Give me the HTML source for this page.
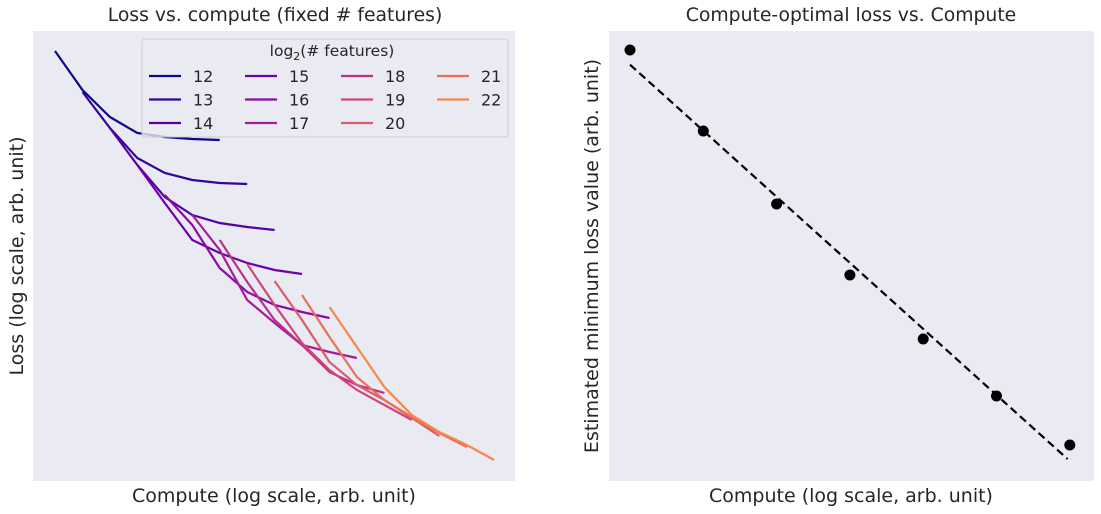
<!DOCTYPE html>
<html><head><meta charset="utf-8"><style>
body{margin:0;background:#fff;}
svg{display:block;font-family:"DejaVu Sans","Liberation Sans",sans-serif;}
</style></head><body>
<svg id="chart" width="1101" height="514">
<rect x="33" y="31" width="482" height="450" fill="#eaeaf2"/>
<rect x="609" y="31" width="485" height="450" fill="#eaeaf2"/>
<text x="275" y="21" font-size="18.8" text-anchor="middle" fill="#262626">Loss vs. compute (fixed # features)</text>
<text x="851" y="21" font-size="18.8" text-anchor="middle" fill="#262626">Compute-optimal loss vs. Compute</text>
<text x="274" y="502" font-size="19" text-anchor="middle" fill="#262626">Compute (log scale, arb. unit)</text>
<text x="851" y="502" font-size="19" text-anchor="middle" fill="#262626">Compute (log scale, arb. unit)</text>
<text transform="translate(23,256) rotate(-90)" font-size="19" text-anchor="middle" fill="#262626">Loss (log scale, arb. unit)</text>
<text transform="translate(598,256) rotate(-90)" font-size="19" text-anchor="middle" fill="#262626">Estimated minimum loss value (arb. unit)</text>
<g id="left-series"></g>
<g id="right-series"></g>
<g id="legend"></g>
</svg>
<script>
const featureLabels = [12,13,14,15,16,17,18,19,20,21,22];
const colors = ["#0d0887","#350498","#5402a3","#7000a8","#8b0aa5","#a31e9a","#b83289","#cc4778","#db5c68","#e97158","#f48849"];
const loss12 = [430,391,364,348,344,342,341];
const loss13 = [389,353,323,308,301,298,297];
const loss14 = [353,316,284,266,258,254,251];
const loss15 = [316,278,241,228,218,211,207];
const loss16 = [286,256,213,189,176,169,163];
const loss17 = [266,231,181,158,136,129,123];
const loss18 = [241,199,161,136,109,96,88];
const loss19 = [217,176,138,111,91,76,61];
const loss20 = [200,161,119,96,81,63,45];
const loss21 = [186,144,104,81,64,48,34];
const loss22 = [174,134,94,66,49,36,21];
const lossSeries = [loss12,loss13,loss14,loss15,loss16,loss17,loss18,loss19,loss20,loss21,loss22];
const optCompute = [0,1,2,3,4,5,6];
const optLoss = [431,350,277,206,142,85,36];

const NS = "http://www.w3.org/2000/svg";
const lx = i => 55 + i * 27.45;
const ly = v => 481 - v;
const rx = i => 630 + i * 73.3;
const ry = v => 481 - v;

const gL = document.getElementById('left-series');
lossSeries.forEach((s, k) => {
  const pts = s.map((v, j) => lx(k + j).toFixed(1) + ',' + ly(v).toFixed(1)).join(' ');
  const p = document.createElementNS(NS, 'polyline');
  p.setAttribute('points', pts);
  p.setAttribute('fill', 'none');
  p.setAttribute('stroke', colors[k]);
  p.setAttribute('stroke-width', '2.2');
  
  
  gL.appendChild(p);
});

const n = optCompute.length;
const mx = optCompute.reduce((a, b) => a + b, 0) / n;
const my = optLoss.reduce((a, b) => a + b, 0) / n;
let sxy = 0, sxx = 0;
for (let i = 0; i < n; i++) { sxy += (optCompute[i] - mx) * (optLoss[i] - my); sxx += (optCompute[i] - mx) ** 2; }
const slope = sxy / sxx, icpt = my - slope * mx;
const gR = document.getElementById('right-series');
const x0 = optCompute[0], x1 = optCompute[n - 1] - 0.03;
const fl = document.createElementNS(NS, 'line');
fl.setAttribute('x1', rx(x0)); fl.setAttribute('y1', ry(icpt + slope * x0));
fl.setAttribute('x2', rx(x1)); fl.setAttribute('y2', ry(icpt + slope * x1));
fl.setAttribute('stroke', '#000'); fl.setAttribute('stroke-width', '2.2'); fl.setAttribute('stroke-dasharray', '8,4.5');


gR.appendChild(fl);
optCompute.forEach((c, i) => {
  const d = document.createElementNS(NS, 'circle');
  d.setAttribute('cx', rx(c)); d.setAttribute('cy', ry(optLoss[i])); d.setAttribute('r', '5.5'); d.setAttribute('fill', '#000');
  
  
  gR.appendChild(d);
});

const gLeg = document.getElementById('legend');
const box = document.createElementNS(NS, 'rect');
box.setAttribute('x', '142'); box.setAttribute('y', '39'); box.setAttribute('width', '366'); box.setAttribute('height', '98');
box.setAttribute('rx', '3'); box.setAttribute('fill', '#eaeaf2'); box.setAttribute('fill-opacity', '0.8'); box.setAttribute('stroke', '#cccccc');


gLeg.appendChild(box);
const tt = document.createElementNS(NS, 'text');
tt.setAttribute('x', '332'); tt.setAttribute('y', '56'); tt.setAttribute('font-size', '15.5'); tt.setAttribute('text-anchor', 'middle'); tt.setAttribute('fill', '#262626');
tt.innerHTML = 'log<tspan font-size="11" dy="4">2</tspan><tspan dy="-4">(# features)</tspan>';


gLeg.appendChild(tt);
featureLabels.forEach((f, k) => {
  const col = Math.floor(k / 3), row = k % 3;
  const bx = 149 + col * 96, by = 76 + row * 23.5;
  const g = document.createElementNS(NS, 'g');
  
  
  g.innerHTML = `<line x1="${bx}" y1="${by}" x2="${bx + 32}" y2="${by}" stroke="${colors[k]}" stroke-width="2.2"/><text x="${bx + 44}" y="${by + 6}" font-size="16" fill="#262626">${f}</text>`;
  gLeg.appendChild(g);
});
</script>
</body></html>
